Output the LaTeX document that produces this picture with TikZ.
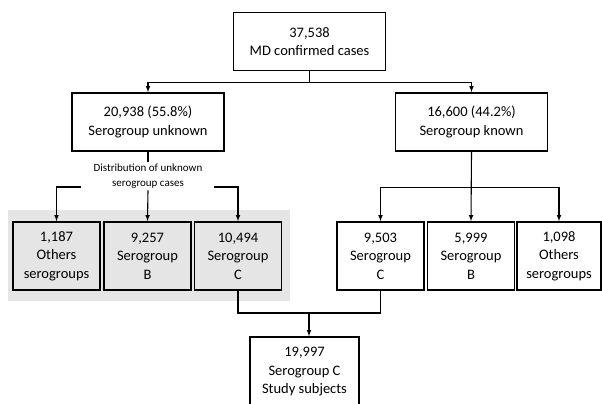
\documentclass[tikz,border=0pt]{standalone}
\usepackage{fontspec}
\setmainfont{Carlito}
\usetikzlibrary{arrows,positioning}

\begin{document}
\begin{tikzpicture}[x=1pt,y=-1pt,
		box/.style={draw, line width=1.7pt, align=center, inner sep=0pt,
			font=\fontsize{14.5}{18.5}\selectfont},
		wide/.style={box, minimum width=152pt, minimum height=58pt},
		small/.style={box, minimum width=87pt, minimum height=68pt},
		grey/.style={fill=gray!20},
		link/.style={line width=1.1pt},
		>=latex]
		
		\useasboundingbox (0,0) rectangle (602,404);
		
		% shaded group of the unknown serogroups
		\fill[gray!20] (8,210) rectangle (290,301);
		
		\node[wide] (top) at (309.5,41.5) {37,538\\MD confirmed cases};
		\node[wide] (unk) at (148,122) {20,938 (55.8\%)\\Serogroup unknown};
		\node[wide] (known) at (471.5,122) {16,600 (44.2\%)\\Serogroup known};
		
		\node[small,grey] (o1) at (56.5,256) {1,187\\Others\\serogroups};
		\node[small,grey] (b1) at (147.5,256) {9,257\\Serogroup\\B};
		\node[small,grey] (c1) at (238,256) {10,494\\Serogroup\\C};
		
		\node[small] (c2) at (380.5,256) {9,503\\Serogroup\\C};
		\node[small] (b2) at (471,256) {5,999\\Serogroup\\B};
		\node[small,minimum width=84pt] (o2) at (559,256) {1,098\\Others\\serogroups};
		
		\node[box, minimum width=109pt, minimum height=70pt] (fin) at (304.5,372)
			{19,997\\Serogroup C\\Study subjects};
		
		\node[align=center, inner sep=2pt, font=\fontsize{11}{15}\selectfont] (dist) at (148,176)
			{Distribution of unknown\\serogroup cases};
		
		\coordinate (dl) at (81,187);
		\coordinate (dr) at (214,187);
		\coordinate (m) at (309,313);
		
		% top split
		\draw[link,->] (top.south) -- ++(0,11) -| (unk.north);
		\draw[link,->] (top.south) -- ++(0,11) -| (known.north);
		
		% unknown branch
		\draw[link] (unk.south) -- (dist.north);
		\draw[link,->] (dl) -| (o1.north);
		\draw[link,->] (dr) -| (c1.north);
		\draw[link,->] (dist.south) -- (b1.north);
		
		% known branch
		\draw[link,->] (known.south) -- ++(0,36) -| (c2.north);
		\draw[link,->] (known.south) -- ++(0,36) -| (o2.north);
		\draw[link,->] (known.south) -- (b2.north);
		
		% merge of serogroup C
		\draw[link] (c1.south) |- (m) -| (c2.south);
		\draw[link,->] (m) -- (m |- fin.north);
	\end{tikzpicture}
\end{document}
